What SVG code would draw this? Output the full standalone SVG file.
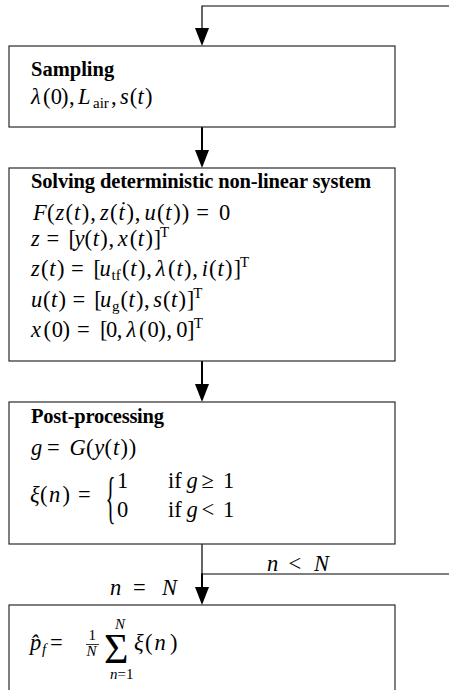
<svg xmlns="http://www.w3.org/2000/svg" width="449" height="690" viewBox="0 0 449 690">
<style>
.box{fill:#fff;stroke:#2a2a2a;stroke-width:1.2}
.t{font-family:"Liberation Serif","Times New Roman",serif;font-weight:bold;font-size:20.5px;fill:#000}
.m{font-family:"Liberation Serif","Times New Roman",serif;font-size:22.5px;fill:#000}
.l{font-family:"Liberation Serif","Times New Roman",serif;font-size:22.5px;fill:#000}
.i{font-style:italic}
.s{font-size:15px}
.thin{stroke:#000;stroke-width:1.2;fill:none}
.thick{stroke:#000;stroke-width:2;fill:none}
</style>
<defs>
<marker id="arr" markerUnits="userSpaceOnUse" markerWidth="18" markerHeight="14" viewBox="0 0 18 14" refX="0" refY="7" orient="auto">
<path d="M0,0 L18,7 L0,14 Z" fill="#000"/>
</marker>
</defs>
<rect width="449" height="690" fill="#fff"/>

<g id="connectors">
<path class="thin" d="M449,6 H202 V28" marker-end="url(#arr)"/>
<path class="thick" d="M202,127 V150" marker-end="url(#arr)"/>
<path class="thick" d="M202,361 V384" marker-end="url(#arr)"/>
<path class="thin" d="M202,544 V574 H449"/>
<path class="thick" d="M202,573.5 V587" marker-end="url(#arr)"/>
<text class="l" y="571"><tspan x="267" class="i">n</tspan><tspan x="288.5">&lt;</tspan><tspan x="314" class="i">N</tspan></text>
<text class="l" y="595"><tspan x="110" class="i">n</tspan><tspan x="133">=</tspan><tspan x="162" class="i">N</tspan></text>
</g>

<g id="sampling">
<rect class="box" x="9" y="46" width="386" height="81"/>
<text class="t" x="31" y="76">Sampling</text>
<text class="m" y="104"><tspan x="31" class="i">λ</tspan><tspan x="42.9">(</tspan><tspan x="50.8">0</tspan><tspan x="61">)</tspan><tspan x="69">,</tspan><tspan x="78" class="i">L</tspan><tspan x="93" y="108" class="s">air</tspan><tspan x="111" y="104">,</tspan><tspan x="120.1" class="i">s</tspan><tspan x="129.7">(</tspan><tspan x="137.6" class="i">t</tspan><tspan x="145">)</tspan></text>
</g>

<g id="solving">
<rect class="box" x="9" y="168" width="386" height="193"/>
<text class="t" x="31" y="188" textLength="340">Solving deterministic non-linear system</text>
<text class="m" y="220"><tspan x="33" class="i">F</tspan><tspan x="47">(</tspan><tspan x="55.4" class="i">z</tspan><tspan x="65.5">(</tspan><tspan x="74" class="i">t</tspan><tspan x="81.8">)</tspan><tspan x="90.3">,</tspan><tspan x="100" class="i">z</tspan><tspan x="110.1">(</tspan><tspan x="118.5" class="i">ṫ</tspan><tspan x="126.4">)</tspan><tspan x="134.8">,</tspan><tspan x="144.5" class="i">u</tspan><tspan x="156.9">(</tspan><tspan x="165.3" class="i">t</tspan><tspan x="173.2">)</tspan><tspan x="181.7">)</tspan><tspan x="196.2">=</tspan><tspan x="219.1">0</tspan></text>
<text class="m" y="246"><tspan x="31" class="i">z</tspan><tspan x="46.5">=</tspan><tspan x="68.6">[</tspan><tspan x="74.4" class="i">y</tspan><tspan x="84.6">(</tspan><tspan x="92.8" class="i">t</tspan><tspan x="100.3">)</tspan><tspan x="108.4">,</tspan><tspan x="117.8" class="i">x</tspan><tspan x="129.7">(</tspan><tspan x="137.8" class="i">t</tspan><tspan x="145.4">)</tspan><tspan x="153.5">]</tspan><tspan x="160" y="237" class="s">T</tspan></text>
<text class="m" y="276"><tspan x="31" class="i">z</tspan><tspan x="40.9">(</tspan><tspan x="49.2" class="i">t</tspan><tspan x="56.9">)</tspan><tspan x="71">=</tspan><tspan x="93.5">[</tspan><tspan x="99.4" class="i">u</tspan><tspan x="111.6" y="280" class="s">tf</tspan><tspan x="122" y="276">(</tspan><tspan x="130.3" class="i">t</tspan><tspan x="137.9">)</tspan><tspan x="146.2">,</tspan><tspan x="155.7" class="i">λ</tspan><tspan x="168.1">(</tspan><tspan x="176.4" class="i">t</tspan><tspan x="184">)</tspan><tspan x="192.3">,</tspan><tspan x="201.8" class="i">i</tspan><tspan x="209.1">(</tspan><tspan x="217.4" class="i">t</tspan><tspan x="225.1">)</tspan><tspan x="233.4">]</tspan><tspan x="240" y="267" class="s">T</tspan></text>
<text class="m" y="307"><tspan x="31" class="i">u</tspan><tspan x="42.9">(</tspan><tspan x="51" class="i">t</tspan><tspan x="58.5">)</tspan><tspan x="72.4">=</tspan><tspan x="94.3">[</tspan><tspan x="100.1" class="i">u</tspan><tspan x="112" y="311" class="s">g</tspan><tspan x="120.4" y="307">(</tspan><tspan x="128.5" class="i">t</tspan><tspan x="136">)</tspan><tspan x="144.1">,</tspan><tspan x="153.3" class="i">s</tspan><tspan x="163">(</tspan><tspan x="171.1" class="i">t</tspan><tspan x="178.6">)</tspan><tspan x="186.7">]</tspan><tspan x="193.2" y="298" class="s">T</tspan></text>
<text class="m" y="337"><tspan x="31" class="i">x</tspan><tspan x="43.4">(</tspan><tspan x="51.8">0</tspan><tspan x="62.6">)</tspan><tspan x="77.1">=</tspan><tspan x="99.9">[</tspan><tspan x="105.9">0</tspan><tspan x="116.8">,</tspan><tspan x="126.4" class="i">λ</tspan><tspan x="139">(</tspan><tspan x="147.4">0</tspan><tspan x="158.2">)</tspan><tspan x="166.6">,</tspan><tspan x="176.3">0</tspan><tspan x="187.1">]</tspan><tspan x="193.8" y="328" class="s">T</tspan></text>
</g>

<g id="postprocessing">
<rect class="box" x="9" y="402" width="386" height="142"/>
<text class="t" x="31" y="423" textLength="133">Post-processing</text>
<text class="m" y="455"><tspan x="31" class="i">g</tspan><tspan x="47">=</tspan><tspan x="69.4" class="i">G</tspan><tspan x="86">(</tspan><tspan x="94.2" class="i">y</tspan><tspan x="104.6">(</tspan><tspan x="112.9" class="i">t</tspan><tspan x="120.5">)</tspan><tspan x="128.8">)</tspan></text>
<text class="m" y="502"><tspan x="30" class="i">ξ</tspan><tspan x="40">(</tspan><tspan x="49" class="i">n</tspan><tspan x="62.5">)</tspan><tspan x="78">=</tspan></text>
<text class="m" transform="translate(105.5,517) scale(1,2.75)" style="font-size:21px">{</text>
<text class="m" x="117" y="488">1</text>
<text class="m" x="117" y="517">0</text>
<text class="m" y="488"><tspan x="168">if</tspan><tspan x="186.4" class="i">g</tspan><tspan x="201.6">≥</tspan><tspan x="222.9">1</tspan></text>
<text class="m" y="517"><tspan x="168">if</tspan><tspan x="186.4" class="i">g</tspan><tspan x="201.6">&lt;</tspan><tspan x="222.9">1</tspan></text>
</g>

<g id="estimate">
<rect class="box" x="9" y="605" width="386" height="100"/>
<text class="m" y="650"><tspan x="30" class="i">p̂</tspan><tspan x="42" y="654" class="i s">f</tspan><tspan x="50" y="650">=</tspan></text>
<line x1="86" y1="644.5" x2="99" y2="644.5" stroke="#000" stroke-width="0.8"/>
<text class="m s"><tspan x="88.5" y="640">1</tspan><tspan x="86.5" y="656" class="i">N</tspan></text>
<text class="m"><tspan x="115" y="629" class="i s">N</tspan><tspan x="104" y="663" style="font-size:42px">Σ</tspan><tspan x="110" y="679" class="s"><tspan class="i">n</tspan>=1</tspan></text>
<text class="m" y="650"><tspan x="134" class="i">ξ</tspan><tspan x="145">(</tspan><tspan x="154.5" class="i">n</tspan><tspan x="170">)</tspan></text>
</g>
</svg>
